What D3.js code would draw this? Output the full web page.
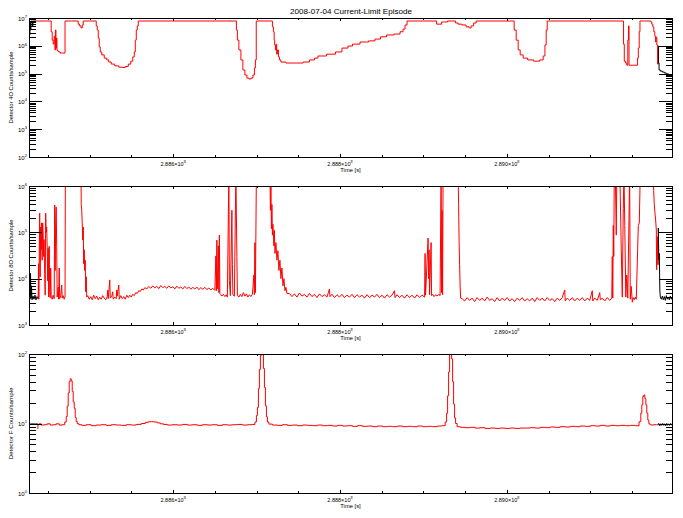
<!DOCTYPE html>
<html><head><meta charset="utf-8">
<script src="https://cdn.jsdelivr.net/npm/d3@7"></script>
<style>body{margin:0;background:#fff}svg{display:block}text{font-family:"Liberation Sans",Arial,sans-serif;fill:#000}</style>
</head><body><svg id="c" width="683" height="518"></svg>
<script>
// ---------- DATA (time in kiloseconds, values in counts/sample) ----------
const title = "2008-07-04 Current-Limit Episode";
const xDomainKs = [288427.2, 289198.0];
const xMajorTicksKs = [288600, 288800, 289000];
const xTickMantissa = ["2.886", "2.888", "2.890"];
const xTickExponent = "8";
const xTitle = "Time [s]";
const yTitles = ["Detector 4O Counts/sample", "Detector 8O Counts/sample", "Detector F Counts/sample"];
const yDomains = [[1e2, 1e7], [1e3, 1e6], [1e0, 1e2]];

const p1Red = [[288435.2,7.8e6],[288453.2,7.8e6],[288454.4,3.2e6],[288455.6,1.6e6],[288456.8,1.15e6],[288458.0,2.2e6],[288458.6,7.1e5],[288459.2,3.7e6],[288459.8,8.3e5],[288460.4,1.9e6],[288461.0,7.1e5],[288461.6,6.5e5],[288464.0,6.0e5],[288465.2,5.5e5],[288470.0,5.5e5],[288470.8,7.8e6],[288485.6,7.8e6],[288486.8,6.0e6],[288488.6,5.2e6],[288490.4,4.4e6],[288491.6,5.6e6],[288492.8,7.8e6],[288507.2,7.8e6],[288508.4,5.2e6],[288509.6,3.7e6],[288510.8,1.9e6],[288512.0,9.1e5],[288513.2,6.0e5],[288515.6,4.7e5],[288519.2,3.6e5],[288521.6,3.1e5],[288524.0,2.6e5],[288527.6,2.2e5],[288532.4,1.9e5],[288537.2,1.7e5],[288540.8,1.66e5],[288544.4,1.8e5],[288548.0,2.2e5],[288550.4,2.8e5],[288552.8,4.0e5],[288554.0,6.0e5],[288555.2,1.6e6],[288556.4,3.7e6],[288557.6,5.2e6],[288558.8,7.8e6],[288675.2,7.8e6],[288676.4,3.7e6],[288677.6,1.6e6],[288680.0,7.1e5],[288682.4,3.1e5],[288684.8,1.35e5],[288687.2,8.9e4],[288689.6,6.9e4],[288692.0,6.4e4],[288694.4,6.9e4],[288696.8,8.9e4],[288698.0,1.6e5],[288699.2,3.1e5],[288700.0,7.8e6],[288718.4,7.8e6],[288719.6,4.8e6],[288720.8,3.2e6],[288721.4,1.6e6],[288722.0,1.07e6],[288723.2,7.1e5],[288723.8,1.15e6],[288724.4,5.0e5],[288725.6,7.1e5],[288726.8,4.0e5],[288728.0,3.1e5],[288730.4,2.6e5],[288740.0,2.4e5],[288752.0,2.4e5],[288759.2,2.6e5],[288767.6,3.1e5],[288771.2,3.6e5],[288776.0,4.3e5],[288791.6,5.0e5],[288797.6,6.0e5],[288807.2,8.3e5],[288812.0,9.8e5],[288818.0,1.15e6],[288830.0,1.37e6],[288838.4,1.5e6],[288845.6,1.75e6],[288851.6,2.1e6],[288860.0,2.45e6],[288869.6,2.65e6],[288874.4,3.2e6],[288876.8,4.0e6],[288879.2,5.6e6],[288881.6,7.8e6],[288915.2,7.8e6],[288916.4,6.0e6],[288921.2,6.0e6],[288922.4,7.2e6],[288928.4,7.2e6],[288929.6,7.8e6],[288938.0,7.8e6],[288939.2,6.6e6],[288944.0,6.0e6],[288948.8,5.6e6],[288953.6,4.8e6],[288956.0,4.4e6],[288958.4,5.2e6],[288962.0,6.6e6],[288964.4,7.8e6],[289007.6,7.8e6],[289010.0,3.7e6],[289012.4,1.6e6],[289014.8,7.1e5],[289017.2,4.7e5],[289022.0,3.6e5],[289028.0,3.1e5],[289036.4,2.8e5],[289042.4,3.1e5],[289044.8,4.3e5],[289046.6,1.07e6],[289047.8,3.7e6],[289049.0,7.8e6],[289139.6,7.8e6],[289140.2,1.15e6],[289141.4,2.8e5],[289143.2,2.4e5],[289144.4,2.0e5],[289145.6,1.6e6],[289146.2,5.2e6],[289146.8,2.0e5],[289156.4,2.0e5],[289157.0,3.6e5],[289158.2,8.3e5],[289159.2,3.2e6],[289160.0,7.8e6],[289172.0,7.8e6],[289173.2,7.2e6],[289174.4,6.0e6],[289175.6,4.8e6],[289176.8,3.2e6],[289178.0,2.2e6],[289178.6,1.37e6],[289179.2,2.05e6],[289180.4,1.07e6],[289181.2,2.2e5]];
const p1BlackStart = [[288427.4,6.0e6],[288428.0,2.45e6],[288428.6,7.2e6],[288429.2,3.7e6],[288429.8,7.8e6],[288431.0,7.8e6],[288431.6,5.2e6],[288432.2,7.8e6],[288435.2,7.8e6]];
const p1BlackEnd = [[289181.2,2.2e5],[289181.6,9.8e5],[289182.2,2.4e5],[289182.8,1.35e5],[289185.2,1.23e5],[289187.6,1.14e5],[289190.0,1.05e5],[289192.4,9.8e4],[289194.8,8.6e4],[289197.2,7.9e4],[289198.4,7.6e4]];

const p2Red = [[288438.2,3.8e3],[288438.6,2.1e4],[288439.0,3.6e3],[288440.0,2.6e5],[288440.6,1.1e4],[288441.2,1.3e5],[288441.8,4.2e4],[288442.4,1.6e5],[288443.0,2.5e4],[288443.6,1.6e5],[288444.2,8.7e4],[288444.8,3.0e4],[288445.2,7.0e4],[288446.0,1.3e4],[288446.6,4.4e3],[288447.2,2.6e5],[288447.8,1.0e5],[288448.4,1.3e5],[288449.0,5.0e4],[288449.6,9.0e3],[288450.2,4.5e4],[288450.8,4.0e3],[288451.4,5.0e4],[288452.0,6.0e3],[288452.6,3.9e3],[288453.2,1.7e4],[288453.8,4.0e3],[288455.0,3.6e3],[288456.2,4.4e3],[288457.4,3.7e3],[288458.0,3.9e5],[288458.6,1.5e4],[288459.2,1.8e5],[288459.8,3.5e5],[288460.4,5.0e4],[288461.0,4.0e3],[288462.2,6.6e3],[288462.8,3.6e3],[288463.4,1.7e4],[288464.0,3.7e3],[288465.2,4.2e3],[288466.4,7.3e3],[288467.0,3.8e3],[288468.2,4.3e3],[288469.4,3.6e3],[288470.4,4.0e3],[288470.8,2.0e6],
[288489.6,2.0e6],[288489.8,4.0e5],[288490.4,3.0e5],[288491.0,1.6e5],[288491.6,6.8e4],[288492.2,1.3e5],[288492.8,2.1e4],[288493.4,4.2e4],[288494.0,1.5e4],[288494.6,2.5e4],[288495.2,5.2e3],[288495.8,1.1e4],[288496.4,4.0e3],
[288497.6,4.3e3],[288499.4,3.6e3],[288501.2,4.1e3],[288503.0,3.5e3],[288504.8,4.4e3],[288506.6,3.7e3],[288508.4,4.2e3],[288510.2,3.5e3],[288512.0,4.0e3],[288513.8,3.6e3],[288515.6,4.3e3],[288517.4,3.8e3],[288519.2,3.5e3],[288521.0,4.1e3],[288521.6,5.7e3],[288522.2,3.7e3],[288524.0,9.4e3],[288524.6,3.8e3],[288526.4,4.2e3],[288527.6,5.2e3],[288528.2,3.6e3],[288530.0,4.0e3],[288531.8,3.7e3],[288532.4,5.7e3],[288533.0,4.2e3],[288534.8,7.3e3],[288535.4,3.6e3],[288537.2,4.3e3],[288539.0,3.7e3],[288540.8,4.1e3],[288542.6,3.6e3],[288544.4,4.4e3],[288546.2,3.9e3],
[288548.0,4.4e3],[288549.8,4.0e3],[288551.6,4.6e3],[288553.4,4.3e3],[288555.2,5.0e3],[288557.0,4.8e3],[288558.8,5.5e3],[288560.6,5.3e3],[288562.4,6.0e3],[288564.2,5.7e3],[288566.0,6.4e3],
[288568.4,6.0e3],[288570.8,6.8e3],[288573.2,6.2e3],[288575.6,7.0e3],[288578.0,6.3e3],[288580.4,6.9e3],[288582.8,6.1e3],[288585.2,7.1e3],[288587.6,6.4e3],[288590.0,6.8e3],[288592.4,6.2e3],[288594.8,7.0e3],[288597.2,6.3e3],[288599.6,6.7e3],[288602.0,6.0e3],[288604.4,6.9e3],[288606.8,6.2e3],[288609.2,6.6e3],[288611.6,6.0e3],[288614.0,6.8e3],[288616.4,6.1e3],[288618.8,6.6e3],[288621.2,5.9e3],[288623.6,6.5e3],[288626.0,6.0e3],[288628.4,6.6e3],[288630.8,5.8e3],[288633.2,6.4e3],[288635.6,5.9e3],[288638.0,6.5e3],[288640.4,5.8e3],[288642.8,6.3e3],[288645.2,5.7e3],[288647.6,6.2e3],[288650.0,5.6e3],
[288651.2,3.1e4],[288651.8,5.5e3],[288652.4,6.8e4],[288653.0,6.0e3],[288654.2,5.1e4],[288654.8,5.0e3],[288655.4,8.7e4],[288656.0,4.8e3],[288657.2,4.5e3],
[288658.4,4.2e3],[288660.2,4.6e3],[288662.0,4.1e3],[288663.8,4.5e3],[288665.0,4.0e3],[288666.8,2.0e6],[288667.4,9.0e3],[288668.6,4.3e3],[288670.4,3.0e5],[288671.0,2.0e4],[288671.6,4.5e3],[288673.4,4.2e3],[288675.2,2.0e6],[288676.4,3.0e4],[288677.0,4.4e3],
[288678.8,4.0e3],[288680.6,4.6e3],[288682.4,4.1e3],[288684.2,5.0e3],[288686.0,4.2e3],[288687.8,4.7e3],[288689.6,4.0e3],[288691.4,4.5e3],[288693.2,4.1e3],[288695.0,4.6e3],
[288696.8,1.2e4],[288697.4,4.5e3],[288698.0,6.0e4],[288698.6,5.0e3],[288699.8,2.0e6],[288716.0,2.0e6],
[288716.6,3.0e5],[288717.2,1.0e6],[288717.8,1.2e5],[288718.4,4.0e5],[288719.0,8.7e4],[288719.6,1.5e5],[288720.8,5.1e4],[288721.4,1.1e5],[288722.0,3.5e4],[288723.2,6.0e4],[288724.4,2.5e4],[288725.6,4.0e4],[288726.8,1.5e4],[288728.0,2.5e4],[288729.2,1.0e4],[288730.4,1.7e4],[288731.6,7.0e3],[288732.8,1.0e4],[288734.0,5.5e3],[288735.2,6.5e3],[288736.4,4.8e3],
[288739.4,4.8e3],[288742.4,4.1e3],[288745.4,4.7e3],[288748.4,4.0e3],[288751.4,4.9e3],[288754.4,4.2e3],[288757.4,4.6e3],[288760.4,4.0e3],[288763.4,4.8e3],[288766.4,4.1e3],[288769.4,4.6e3],[288772.4,3.9e3],[288775.4,4.7e3],[288778.4,4.1e3],[288781.4,4.5e3],[288784.4,4.0e3],[288787.4,6.0e3],[288788.0,4.1e3],[288790.4,4.6e3],[288793.4,3.9e3],[288796.4,4.5e3],[288799.4,4.0e3],[288802.4,4.6e3],[288805.4,3.9e3],[288808.4,4.4e3],[288811.4,4.0e3],[288814.4,4.6e3],[288817.4,3.9e3],[288820.4,4.5e3],[288823.4,4.0e3],[288826.4,4.4e3],[288829.4,3.8e3],[288832.4,4.5e3],[288835.4,3.9e3],[288838.4,4.4e3],[288841.4,4.0e3],[288844.4,4.6e3],[288847.4,3.9e3],[288850.4,4.4e3],[288853.4,3.8e3],[288856.4,4.5e3],[288859.4,4.0e3],[288862.4,4.4e3],[288865.4,5.5e3],[288866.0,3.9e3],[288868.4,4.5e3],[288871.4,3.9e3],[288874.4,4.4e3],[288877.4,3.8e3],[288880.4,4.5e3],[288883.4,3.9e3],[288886.4,4.4e3],[288889.4,3.8e3],[288892.4,4.5e3],[288895.4,3.9e3],[288898.4,4.4e3],[288901.4,4.0e3],
[288902.0,3.5e4],[288902.6,4.4e3],[288905.6,7.5e4],[288906.2,1.0e4],[288906.8,4.2e4],[288907.4,4.5e3],[288909.2,6.0e4],[288909.8,4.3e3],[288911.0,4.6e3],[288912.8,4.1e3],[288914.6,4.5e3],[288916.4,4.2e3],[288918.2,4.6e3],[288920.0,4.3e3],[288921.2,2.0e6],[288921.8,5.0e3],[288922.4,3.0e5],[288923.0,4.5e3],[288923.6,2.0e6],[288941.6,2.0e6],[288942.2,4.0e5],[288942.8,6.0e4],[288943.4,2.0e4],[288944.0,7.0e3],[288944.6,3.8e3],
[288946.4,3.7e3],[288949.4,3.3e3],[288952.4,3.9e3],[288955.4,3.4e3],[288958.4,3.8e3],[288961.4,3.2e3],[288964.4,3.9e3],[288967.4,3.4e3],[288970.4,3.8e3],[288973.4,3.3e3],[288976.4,4.0e3],[288979.4,3.4e3],[288982.4,3.7e3],[288985.4,3.2e3],[288988.4,3.9e3],[288991.4,3.3e3],[288994.4,3.8e3],[288997.4,3.4e3],[289000.4,3.9e3],[289003.4,3.3e3],[289006.4,3.7e3],[289009.4,3.2e3],[289012.4,3.8e3],[289015.4,3.4e3],[289018.4,3.9e3],[289021.4,3.3e3],[289024.4,3.7e3],[289027.4,3.3e3],[289030.4,3.8e3],[289033.4,3.2e3],[289036.4,3.9e3],[289039.4,3.4e3],[289042.4,3.8e3],[289045.4,3.3e3],[289048.4,3.9e3],[289051.4,3.4e3],[289054.4,3.7e3],[289057.4,3.2e3],[289060.4,3.8e3],[289063.4,3.4e3],[289066.4,3.9e3],[289069.4,5.7e3],[289070.0,3.3e3],[289072.4,3.8e3],[289075.4,3.4e3],[289078.4,3.9e3],[289081.4,3.3e3],[289084.4,3.8e3],[289087.4,3.4e3],[289090.4,3.9e3],[289093.4,3.3e3],[289096.4,3.8e3],[289099.4,3.4e3],[289102.4,5.5e3],[289103.0,3.3e3],[289105.4,3.8e3],[289108.4,3.4e3],[289111.4,5.0e3],[289112.0,3.5e3],[289114.4,3.8e3],[289117.4,3.3e3],[289120.4,3.9e3],[289123.4,3.4e3],[289125.8,3.8e3],
[289126.4,3.0e4],[289127.0,3.8e3],[289127.6,1.4e5],[289128.2,3.0e4],[289128.8,2.0e6],[289130.0,2.0e6],[289131.2,8.7e4],[289131.8,2.0e6],[289135.4,2.0e6],[289136.0,6.0e5],[289137.2,4.2e4],[289138.4,4.0e3],[289139.6,3.3e5],[289140.4,2.0e6],[289141.4,1.4e5],[289142.6,4.0e3],[289143.8,1.2e4],[289145.0,3.8e3],[289146.4,1.8e5],[289147.2,2.0e6],[289148.0,3.6e3],[289149.2,6.8e3],[289150.4,3.1e3],[289151.6,3.9e3],[289152.8,3.5e3],[289154.0,4.0e3],[289155.2,3.6e3],[289156.8,4.2e4],[289157.6,1.4e5],[289158.8,1.6e5],[289160.0,2.0e6],[289175.6,2.0e6],[289176.0,8.1e5],[289176.8,3.9e5],[289177.6,2.6e5],[289178.4,1.85e5],[289179.2,1.12e5],[289179.6,1.55e4],[289180.4,8.0e4],[289181.2,2.0e4]];
const p2BlackStart = [[288427.2,4.0e3],[288427.8,1.7e4],[288428.4,3.6e3],[288429.0,1.3e4],[288429.6,3.8e3],[288430.2,7.0e3],[288430.8,3.5e3],[288432.0,4.2e3],[288433.2,3.6e3],[288434.4,4.4e3],[288435.6,3.5e3],[288436.8,4.1e3],[288438.0,3.7e3],[288438.2,3.8e3]];
const p2BlackEnd = [[289181.2,2.0e4],[289181.6,1.24e5],[289182.2,2.5e4],[289182.8,3.5e4],[289183.4,5.7e3],[289184.0,4.0e3],[289185.2,3.6e3],[289186.4,4.2e3],[289187.6,3.5e3],[289188.8,4.1e3],[289190.0,3.4e3],[289191.2,4.3e3],[289192.4,3.6e3],[289193.6,4.0e3],[289194.8,3.5e3],[289196.0,4.2e3],[289197.2,3.6e3],[289198.4,4.0e3]];

const p3Red = [[288437.6,8.4],[288438.2,9.6],[288440.0,9.9],[288443.6,9.5],[288447.2,9.6],[288450.8,9.9],[288454.4,9.5],[288458.0,9.6],[288461.6,9.9],[288465.2,9.5],[288468.8,9.6],
[288471.2,10.5],[288472.4,12.6],[288473.6,17.8],[288474.8,27.5],[288476.0,40],[288477.2,44],[288478.4,41],[288479.6,29],[288480.8,20.4],[288482.0,16.6],[288483.2,12.2],[288484.4,10.7],[288485.6,10.0],[288488.0,9.6],
[288492.8,9.4],[288498.8,9.6],[288504.8,9.3],[288510.8,9.5],[288516.8,9.6],[288522.8,9.4],[288528.8,9.6],[288534.8,9.5],[288540.8,9.4],[288546.8,9.6],[288552.8,9.5],[288558.8,9.7],
[288564.8,10.0],[288568.4,10.4],[288572.0,10.6],[288575.6,10.6],[288579.2,10.5],[288582.8,10.2],[288586.4,9.9],
[288590.0,9.7],[288596.0,9.5],[288602.0,9.6],[288608.0,9.5],[288614.0,9.7],[288620.0,9.5],[288626.0,9.6],[288632.0,9.4],[288638.0,9.6],[288644.0,9.5],[288650.0,9.6],[288656.0,9.4],[288662.0,9.6],[288668.0,9.5],[288674.0,9.6],[288680.0,9.7],[288686.0,9.5],[288692.0,9.6],[288697.0,9.7],
[288699.2,10.5],[288700.4,13],[288701.6,17],[288702.8,32],[288704.0,60],[288705.2,95],[288706.4,120],[288707.6,105],[288708.8,62],[288710.0,33],[288711.2,18],[288712.4,12.5],[288713.6,10.5],[288716.0,9.8],
[288722,9.5],[288728,9.4],[288734,9.6],[288740,9.4],[288746,9.5],[288752,9.3],[288758,9.5],[288764,9.4],[288770,9.3],[288776,9.5],[288782,9.3],[288788,9.4],[288794,9.2],[288800,9.4],[288806,9.2],[288812,9.3],[288818,9.1],[288824,9.3],[288830,9.1],[288836,9.2],[288842,9.0],[288848,9.2],[288854,9.0],[288860,9.1],[288866,9.0],[288872,9.2],[288878,9.0],[288884,9.1],[288890,9.0],[288896,9.2],[288902,9.0],[288908,9.1],[288914,9.0],[288920,9.2],[288925,9.3],
[288927.2,10.5],[288928.4,14],[288929.6,25],[288930.8,55],[288932.0,100],[288933.2,120],[288934.4,85],[288935.6,40],[288936.8,19],[288938.0,12],[288939.2,10],[288941.6,9.0],
[288947,8.8],[288953,8.7],[288959,8.8],[288965,8.6],[288971,8.7],[288977,8.5],[288983,8.6],[288989,8.5],[288995,8.6],[289001,8.5],[289007,8.6],[289013,8.5],[289019,8.6],[289025,8.6],[289031,8.7],[289037,8.6],[289043,8.8],[289049,8.7],[289055,8.9],[289061,8.8],[289067,9.0],[289073,8.9],[289079,9.1],[289085,9.0],[289091,9.2],[289097,9.1],[289103,9.3],[289109,9.2],[289115,9.4],[289121,9.2],[289127,9.4],[289133,9.3],[289139,9.4],[289145,9.3],[289151,9.4],[289157,9.3],
[289160.0,10.6],[289161.2,14.1],[289162.4,18.6],[289163.6,24.5],[289164.8,25.7],[289166.0,23.0],[289167.2,18.6],[289168.4,14.1],[289169.6,11.2],[289170.8,10.0],[289172.0,9.6],[289174.4,9.5],[289178.0,9.6],[289180.8,9.6]];
const p3BlackStart = [[288427.2,9.8],[288428.4,9.9],[288429.6,9.7],[288430.8,9.9],[288432.0,9.8],[288433.2,9.9],[288434.4,9.7],[288435.6,9.9],[288436.8,9.8],[288437.6,9.9]];
const p3BlackEnd = [[289180.8,9.6],[289182.0,9.9],[289183.2,9.4],[289184.4,9.8],[289185.6,9.5],[289186.8,9.9],[289188.0,9.5],[289189.2,9.8],[289190.4,9.4],[289191.6,9.9],[289192.8,9.5],[289194.0,9.8],[289195.2,9.5],[289196.4,9.9],[289197.6,9.6]];

// ---------- DRAWING ----------
const svg = d3.select("#c");
const L = 29, R = 672, PH = 139;
const tops = [18, 186, 354];
const x = d3.scaleLinear().domain(xDomainKs.map(v => v * 1000)).range([L, R]);
const xMinor = d3.range(288450, 289200, 50).filter(v => !xMajorTicksKs.includes(v)).map(v => v * 1000);

svg.append("text").attr("x", (L + R) / 2 + 0.5).attr("y", 14).attr("text-anchor", "middle")
  .style("font-size", "7.5px").attr("textLength", 122).attr("lengthAdjust", "spacingAndGlyphs").text(title);

const panels = [
  { red: p1Red, black: [p1BlackStart, p1BlackEnd], curve: d3.curveStep },
  { red: p2Red, black: [p2BlackStart, p2BlackEnd], curve: d3.curveLinear },
  { red: p3Red, black: [p3BlackStart, p3BlackEnd], curve: d3.curveStep }
];

function sup(g, px, py, mant, exp, anchor, fs) {
  const t = g.append("text").attr("x", px).attr("y", py).attr("text-anchor", anchor).style("font-size", fs + "px");
  t.append("tspan").text(mant);
  t.append("tspan").attr("dy", -fs * 0.45).style("font-size", (fs * 0.7) + "px").text(exp);
  return t;
}

panels.forEach((p, i) => {
  const top = tops[i], bot = top + PH;
  const [lo, hi] = yDomains[i];
  const y = d3.scaleLog().domain([lo, hi]).range([bot, top]);
  const g = svg.append("g");
  const cid = "clip" + i;
  svg.append("clipPath").attr("id", cid).append("rect").attr("x", L).attr("y", top).attr("width", R - L + 1).attr("height", PH + 1);
  const line = d3.line().x(d => x(d[0] * 1000)).y(d => y(d[1])).curve(p.curve);
  const dg = g.append("g").attr("clip-path", `url(#${cid})`);
  p.black.forEach(b => dg.append("path").attr("d", line(b)).attr("fill", "none").attr("stroke", "#000").attr("stroke-width", 1));
  dg.append("path").attr("d", line(p.red)).attr("fill", "none").attr("stroke", "#ff0000").attr("stroke-width", 1);

  const eLo = Math.round(Math.log10(lo)), eHi = Math.round(Math.log10(hi));
  const yMajor = d3.range(eLo, eHi + 1).map(e => Math.pow(10, e));
  const yMinor = [];
  d3.range(eLo, eHi).forEach(e => { for (let k = 2; k <= 9; k++) yMinor.push(k * Math.pow(10, e)); });

  const axes = [
    [d3.axisLeft(y), L, 0, yMajor, 13], [d3.axisLeft(y), L, 0, yMinor, 6.5],
    [d3.axisRight(y), R, 0, yMajor, 13], [d3.axisRight(y), R, 0, yMinor, 6.5],
    [d3.axisBottom(x), 0, bot, xMajorTicksKs.map(v => v * 1000), 3], [d3.axisBottom(x), 0, bot, xMinor, 1.8],
    [d3.axisTop(x), 0, top, xMajorTicksKs.map(v => v * 1000), 3], [d3.axisTop(x), 0, top, xMinor, 1.8]
  ];
  axes.forEach(([ax, tx, ty, vals, len]) => {
    const a = g.append("g").attr("transform", `translate(${tx},${ty})`)
      .call(ax.tickValues(vals).tickSize(-len).tickFormat(""));
    a.select(".domain").remove();
    a.selectAll("line").attr("stroke", "#000").attr("shape-rendering", "crispEdges");
  });
  g.append("rect").attr("x", L + 0.5).attr("y", top + 0.5).attr("width", R - L).attr("height", PH)
    .attr("fill", "none").attr("stroke", "#000").attr("shape-rendering", "crispEdges");

  yMajor.forEach(v => {
    sup(g, L - 2, y(v) + 2.5, "10", String(Math.round(Math.log10(v))), "end", 6);
  });
  xMajorTicksKs.forEach((v, j) => {
    sup(g, x(v * 1000), bot + 8.5, xTickMantissa[j] + "\u00d710", xTickExponent, "middle", 5.5);
  });
  g.append("text").attr("x", (L + R) / 2).attr("y", bot + 14.5).attr("text-anchor", "middle")
    .style("font-size", "5.8px").text(xTitle);
  g.append("text").attr("transform", `translate(13,${(top + bot) / 2}) rotate(-90)`).attr("text-anchor", "middle")
    .style("font-size", "6px").attr("textLength", 72).attr("lengthAdjust", "spacingAndGlyphs").text(yTitles[i]);
});
</script></body></html>
